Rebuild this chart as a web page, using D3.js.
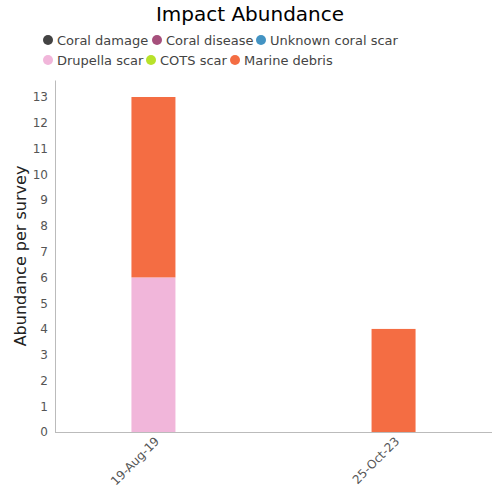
<!DOCTYPE html>
<html><head><meta charset="utf-8">
<script src="https://cdn.jsdelivr.net/npm/d3@7"></script>
<style>body{margin:0;background:#fff;font-family:"DejaVu Sans",sans-serif;}</style>
</head><body><svg id="c" width="500" height="500"></svg>
<script>
const categories = ["19-Aug-19", "25-Oct-23"];
const seriesNames = ["Coral damage", "Coral disease", "Unknown coral scar", "Drupella scar", "COTS scar", "Marine debris"];
const seriesColors = ["#434343", "#a6507c", "#4393c3", "#f1b6da", "#b8e22a", "#f46d43"];
const coralDamage = [0, 0];
const coralDisease = [0, 0];
const unknownScar = [0, 0];
const drupellaScar = [6, 0];
const cotsScar = [0, 0];
const marineDebris = [7, 4];
const yTicks = [0,1,2,3,4,5,6,7,8,9,10,11,12,13];

const seriesValues = [coralDamage, coralDisease, unknownScar, drupellaScar, cotsScar, marineDebris];
const rows = categories.map((c, i) => {
  const r = {cat: c};
  seriesNames.forEach((s, j) => r[s] = seriesValues[j][i]);
  return r;
});
const stack = d3.stack().keys(seriesNames)(rows);

const svg = d3.select("#c");
const L = 55, R = 492, T = 80, B = 432;
const x = d3.scalePoint().domain(categories).range([L, R]).padding(0.41);
const y = d3.scaleLinear().domain([0, 13.66]).range([B, T]);
const color = d3.scaleOrdinal().domain(seriesNames).range(seriesColors);
const bw = 44;

svg.append("text").attr("x", 250).attr("y", 21).attr("text-anchor", "middle")
  .attr("font-size", 20).attr("fill", "#000").text("Impact Abundance");

// legend
const legendPos = [[48,40],[157,40],[261,40],[48,60],[151,60],[235,60]];
seriesNames.forEach((s, i) => {
  const [lx, ly] = legendPos[i];
  const g = svg.append("g").attr("transform", `translate(${lx},${ly})`);
  g.append("circle").attr("r", 5).attr("fill", color(s));
  g.append("text").attr("x", 9).attr("y", 4.5).attr("font-size", 13).attr("fill", "#444").text(s);
});

// bars
svg.append("g").selectAll("g").data(stack).join("g").attr("fill", d => color(d.key))
  .selectAll("rect").data(d => d).join("rect")
  .attr("x", d => x(d.data.cat) - bw/2)
  .attr("y", d => y(d[1]))
  .attr("width", bw)
  .attr("height", d => y(d[0]) - y(d[1]));

// y axis
const ya = svg.append("g").attr("transform", `translate(${L},0)`)
  .call(d3.axisLeft(y).tickValues(yTicks).tickSize(0).tickPadding(7));
ya.select(".domain").attr("stroke", "#bbb");
ya.selectAll("text").attr("font-size", 12).attr("fill", "#555").attr("font-family", "DejaVu Sans, sans-serif");

// x axis
const xa = svg.append("g").attr("transform", `translate(0,${B})`)
  .call(d3.axisBottom(x).tickSize(0).tickPadding(0));
xa.select(".domain").attr("stroke", "#bbb").attr("d", `M${L},0.5H${R}`);
xa.selectAll("text").attr("font-size", 12).attr("fill", "#555").attr("font-family", "DejaVu Sans, sans-serif")
  .attr("text-anchor", "end").attr("dy", 0)
  .attr("transform", "translate(6,10) rotate(-45)");

svg.append("text").attr("transform", `translate(26,${(T+B)/2}) rotate(-90)`)
  .attr("text-anchor", "middle").attr("font-size", 16).attr("fill", "#222")
  .text("Abundance per survey");
</script></body></html>
